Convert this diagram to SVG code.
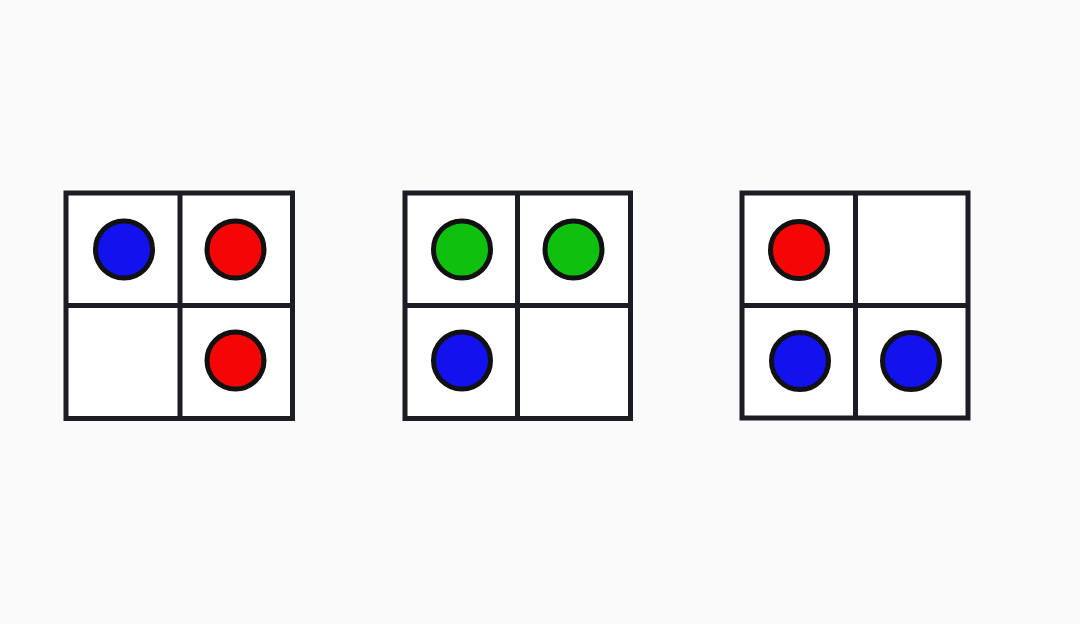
<svg xmlns="http://www.w3.org/2000/svg" width="1080" height="624" viewBox="0 0 1080 624">
<style>
.grid{fill:#ffffff;stroke:#1c1c24;stroke-width:5}
.ln{stroke:#1c1c24;stroke-width:5}
.dot{stroke:#111111;stroke-width:5}
.b{fill:#1212ee}
.r{fill:#f50505}
.g{fill:#0fc00f}
</style>
<rect width="1080" height="624" fill="#fafafa"/>
<g id="grid1">
<rect class="grid" x="66" y="193" width="226.5" height="225.5"/>
<line class="ln" x1="180" y1="193" x2="180" y2="418.5"/>
<line class="ln" x1="66" y1="305.5" x2="292.5" y2="305.5"/>
<circle class="dot b" cx="124" cy="249.5" r="28.5"/>
<circle class="dot r" cx="235.5" cy="249.5" r="28.5"/>
<circle class="dot r" cx="235.5" cy="360.5" r="28.5"/>
</g>
<g id="grid2">
<rect class="grid" x="405" y="193" width="225.5" height="225.5"/>
<line class="ln" x1="517.5" y1="193" x2="517.5" y2="418.5"/>
<line class="ln" x1="405" y1="305.5" x2="630.5" y2="305.5"/>
<circle class="dot g" cx="462" cy="249.5" r="28.5"/>
<circle class="dot g" cx="573.5" cy="249.5" r="28.5"/>
<circle class="dot b" cx="462" cy="360.5" r="28.5"/>
</g>
<g id="grid3">
<rect class="grid" x="742" y="193" width="226" height="225"/>
<line class="ln" x1="855.5" y1="193" x2="855.5" y2="418"/>
<line class="ln" x1="742" y1="305.5" x2="968" y2="305.5"/>
<circle class="dot r" cx="799" cy="250" r="28.5"/>
<circle class="dot b" cx="800" cy="361" r="28.5"/>
<circle class="dot b" cx="911" cy="361" r="28.5"/>
</g>
<g id="connectors"></g>
</svg>
